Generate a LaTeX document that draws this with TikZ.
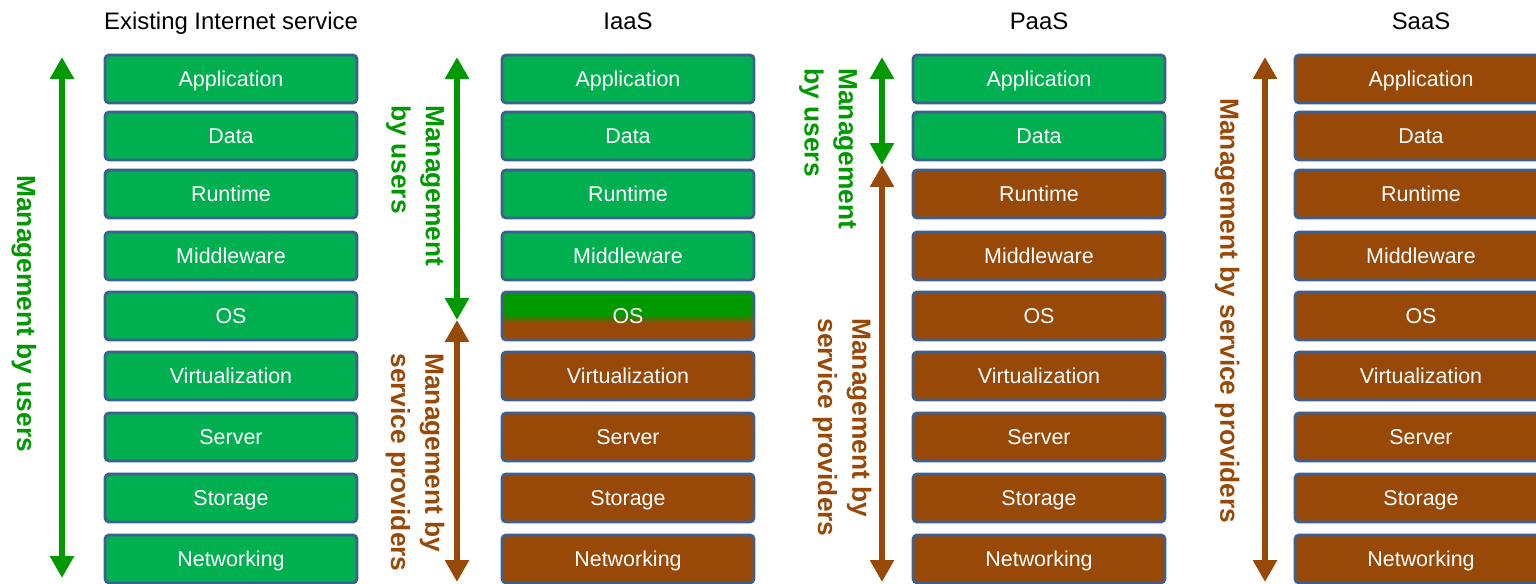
\documentclass[tikz,border=0pt]{standalone}
\usepackage{fontspec}
\setmainfont{Liberation Sans}
\usepackage{tikz}
\usepackage{xcolor}
\usetikzlibrary{arrows.meta, positioning}
\definecolor{layergreen}{RGB}{0, 176, 80}
\definecolor{layerbrown}{RGB}{152, 72, 7}
\definecolor{layerborder}{RGB}{60, 96, 144}
\definecolor{osgreen}{RGB}{0, 153, 0}
\definecolor{osband}{RGB}{176, 140, 90}
\definecolor{usergreen}{RGB}{0, 153, 0}

\begin{document}
\begin{tikzpicture}[x=0.02cm, y=-0.02cm,
    layer/.style={draw=layerborder, line width=1.6pt, rounded corners=0.08cm, minimum width=5.04cm, minimum height=0.96cm, inner sep=0, text=white, font=\fontsize{12.2}{14}\selectfont, text height=8.7pt, text depth=0pt},
    greenlayer/.style={layer, fill=layergreen},
    brownlayer/.style={layer, fill=layerbrown},
    oslayer/.style={layer, fill=layerbrown, path picture={
        \fill[osgreen] (path picture bounding box.north west) rectangle ([yshift=1pt]path picture bounding box.east);
        \shade[top color=osgreen, middle color=osband, bottom color=layerbrown] ([yshift=1pt]path picture bounding box.west) rectangle ([yshift=-4pt]path picture bounding box.east);
    }},
    title/.style={font=\fontsize{13.6}{16}\selectfont, inner sep=0, anchor=base},
    userarrow/.style={{Triangle[width=0.46cm, length=0.44cm]}-{Triangle[width=0.46cm, length=0.44cm]}, line width=0.12cm, usergreen},
    provarrow/.style={{Triangle[width=0.46cm, length=0.44cm]}-{Triangle[width=0.46cm, length=0.44cm]}, line width=0.12cm, layerbrown},
    mlabel/.style={rotate=-90, anchor=west, inner sep=0, align=left, font=\fontsize{15}{19.5}\selectfont\bfseries}
]
\useasboundingbox (0,0) rectangle (1536,584);

% Layer stacks
\foreach \cx/\ng/\ttl [count=\c] in {231/9/Existing Internet service, 628/4/IaaS, 1039/2/PaaS, 1421/0/SaaS} {
    \node[title] (t\c) at (\cx,30) {\ttl};
    \foreach \lay/\cy [count=\r] in {Application/79, Data/136, Runtime/194, Middleware/256, OS/316, Virtualization/376, Server/437, Storage/498, Networking/559} {
        \ifnum\r>\ng \def\kind{brownlayer}\else \def\kind{greenlayer}\fi
        \ifnum\c=2 \ifnum\r=5 \def\kind{oslayer}\fi\fi
        \node[style=\kind] (c\c r\r) at (\cx,\cy) {\lay};
    }
}

% Arrow end points
\coordinate (a1top) at (62,57);
\coordinate (a1bot) at (62,578);
\coordinate (a2top) at (457,57);
\coordinate (a2mid) at (457,320);
\coordinate (a2bot) at (457,582);
\coordinate (a3top) at (882,57);
\coordinate (a3mid) at (882,165);
\coordinate (a3bot) at (882,582);
\coordinate (a4top) at (1265,57);
\coordinate (a4bot) at (1265,582);

% Existing Internet service
\draw[userarrow] (a1top) -- (a1bot);
\node[mlabel, usergreen] (l1) at (24,175) {Management by users};

% IaaS
\draw[userarrow] (a2top) -- (a2mid);
\draw[provarrow] (a2mid) -- (a2bot);
\node[mlabel, usergreen] (l2u) at (415,105) {Management\\by users};
\node[mlabel, layerbrown] (l2p) at (415,353) {Management by\\service providers};

% PaaS
\draw[userarrow] (a3top) -- (a3mid);
\draw[provarrow] (a3mid) -- (a3bot);
\node[mlabel, usergreen] (l3u) at (828,68) {Management\\by users};
\node[mlabel, layerbrown] (l3p) at (842,318) {Management by\\service providers};

% SaaS
\draw[provarrow] (a4top) -- (a4bot);
\node[mlabel, layerbrown] (l4) at (1227,98) {Management by service providers};

\end{tikzpicture}
\end{document}
